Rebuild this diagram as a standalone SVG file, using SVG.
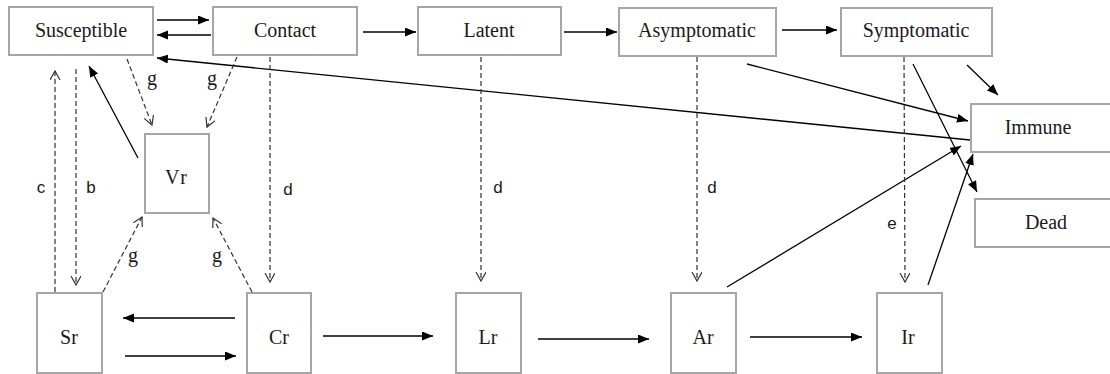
<svg xmlns="http://www.w3.org/2000/svg" width="1110" height="374" viewBox="0 0 1110 374">
  <style>
    .box { fill: #ffffff; stroke: #a6a6a6; stroke-width: 2; }
    .lbl { font-family: 'Liberation Serif', 'DejaVu Serif', serif; font-size: 20px; fill: #1a1a1a; text-anchor: middle; }
    .rate { font-family: 'Liberation Sans', 'DejaVu Sans', sans-serif; font-size: 17px; fill: #1a1a1a; text-anchor: middle; }
    .grate { font-family: 'Liberation Serif', 'DejaVu Serif', serif; font-size: 20px; fill: #1a1a1a; text-anchor: middle; }
    .flow { fill: none; stroke: #000000; stroke-width: 1.3; marker-end: url(#solid); }
    .dash { fill: none; stroke: #333333; stroke-width: 1.2; stroke-dasharray: 5 3; marker-end: url(#open); }
  </style>
  <defs>
    <marker id="solid" markerUnits="userSpaceOnUse" markerWidth="12" markerHeight="10" refX="11" refY="4.5" orient="auto">
      <path d="M0,0 L11,4.5 L0,9 Z" fill="#000000"/>
    </marker>
    <marker id="open" markerUnits="userSpaceOnUse" markerWidth="12" markerHeight="12" refX="9" refY="5" orient="auto">
      <path d="M0,0 L9,5 L0,10" fill="none" stroke="#333333" stroke-width="1.2"/>
    </marker>
  </defs>

  <rect width="1110" height="374" fill="#ffffff"/>

  <!-- connectors -->
  <g id="connectors">
    <!-- top row flows -->
    <line class="flow" x1="157" y1="20" x2="209" y2="20"/>
    <line class="flow" x1="211" y1="35" x2="157" y2="35"/>
    <line class="flow" x1="363" y1="32" x2="416" y2="32"/>
    <line class="flow" x1="564" y1="32" x2="617" y2="32"/>
    <line class="flow" x1="782" y1="30" x2="837" y2="30"/>
    <!-- recovery / death -->
    <line class="flow" x1="970" y1="140" x2="157" y2="58"/>
    <line class="flow" x1="747" y1="64" x2="968" y2="121"/>
    <line class="flow" x1="967" y1="65" x2="998" y2="95"/>
    <line class="flow" x1="913" y1="64" x2="977" y2="192"/>
    <line class="flow" x1="727" y1="287" x2="961" y2="146"/>
    <line class="flow" x1="928" y1="285" x2="973" y2="154"/>
    <line class="flow" x1="138" y1="158" x2="89" y2="66"/>
    <!-- bottom row flows -->
    <line class="flow" x1="235" y1="318" x2="123" y2="318"/>
    <line class="flow" x1="125" y1="356" x2="236" y2="356"/>
    <line class="flow" x1="323" y1="336" x2="433" y2="336"/>
    <line class="flow" x1="538" y1="339" x2="649" y2="339"/>
    <line class="flow" x1="750" y1="337" x2="862" y2="337"/>
    <!-- dashed transfers -->
    <line class="dash" x1="127" y1="59" x2="152" y2="125"/>
    <line class="dash" x1="237" y1="57" x2="207" y2="127"/>
    <line class="dash" x1="55" y1="292" x2="55" y2="71"/>
    <line class="dash" x1="76" y1="69" x2="76" y2="285"/>
    <line class="dash" x1="270" y1="57" x2="270" y2="282"/>
    <line class="dash" x1="481" y1="57" x2="481" y2="281"/>
    <line class="dash" x1="697" y1="57" x2="697" y2="281"/>
    <line class="dash" x1="904" y1="57" x2="905" y2="282"/>
    <line class="dash" x1="103" y1="292" x2="142" y2="217"/>
    <line class="dash" x1="252" y1="292" x2="213" y2="218"/>
    <!-- rate labels -->
    <text class="grate" x="152" y="85">g</text>
    <text class="grate" x="212" y="85">g</text>
    <text class="grate" x="133" y="262">g</text>
    <text class="grate" x="217" y="262">g</text>
    <text class="rate" x="41" y="193">c</text>
    <text class="rate" x="91" y="193">b</text>
    <text class="rate" x="288" y="195">d</text>
    <text class="rate" x="498" y="193">d</text>
    <text class="rate" x="712" y="193">d</text>
    <text class="rate" x="892" y="229">e</text>
  </g>

  <!-- compartments -->
  <g id="susceptible"><rect class="box" x="9" y="7" width="144" height="48"/><text class="lbl" x="81" y="37">Susceptible</text></g>
  <g id="contact"><rect class="box" x="213" y="7" width="144" height="48"/><text class="lbl" x="285" y="37">Contact</text></g>
  <g id="latent"><rect class="box" x="418" y="7" width="143" height="48"/><text class="lbl" x="489" y="37">Latent</text></g>
  <g id="asymptomatic"><rect class="box" x="619" y="8" width="157" height="48"/><text class="lbl" x="697" y="37">Asymptomatic</text></g>
  <g id="symptomatic"><rect class="box" x="841" y="8" width="151" height="48"/><text class="lbl" x="916" y="37">Symptomatic</text></g>
  <g id="immune"><rect class="box" x="971" y="104" width="145" height="48"/><text class="lbl" x="1038" y="134">Immune</text></g>
  <g id="dead"><rect class="box" x="975" y="199" width="145" height="48"/><text class="lbl" x="1046" y="229">Dead</text></g>
  <g id="vr"><rect class="box" x="145" y="134" width="64" height="79"/><text class="lbl" x="177" y="184" letter-spacing="2">Vr</text></g>
  <g id="sr"><rect class="box" x="37" y="293" width="65" height="80"/><text class="lbl" x="69" y="344">Sr</text></g>
  <g id="cr"><rect class="box" x="247" y="293" width="64" height="80"/><text class="lbl" x="279" y="344">Cr</text></g>
  <g id="lr"><rect class="box" x="456" y="293" width="65" height="80"/><text class="lbl" x="488" y="344">Lr</text></g>
  <g id="ar"><rect class="box" x="671" y="293" width="65" height="80"/><text class="lbl" x="703" y="344">Ar</text></g>
  <g id="ir"><rect class="box" x="877" y="293" width="65" height="80"/><text class="lbl" x="908" y="344">Ir</text></g>
</svg>
